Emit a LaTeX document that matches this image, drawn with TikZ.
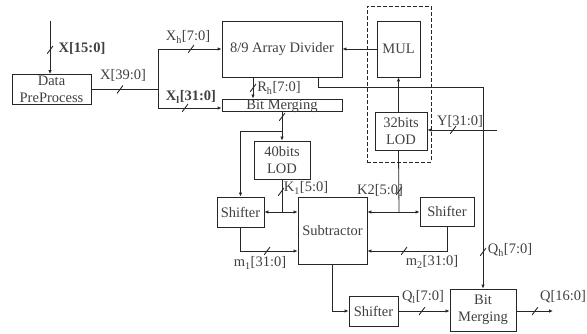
\documentclass[tikz,border=0pt]{standalone}
\usepackage{fontspec}
\setmainfont{Liberation Serif}
\usetikzlibrary{arrows.meta}

\begin{document}
\begin{tikzpicture}[
  x=1pt, y=-1pt,
  box/.style={draw=black!85, line width=0.8pt, inner sep=0pt, align=center,
              text=black!75, font=\fontsize{14.5}{17}\selectfont},
  lbl/.style={inner sep=0pt, text=black!75, font=\fontsize{14.5}{17}\selectfont},
  wire/.style={draw=black!85, line width=0.8pt},
  arr/.style={wire, -{Latex[length=4pt, width=3.5pt]}},
  bus/.style={draw=none, inner sep=0pt, minimum width=6pt, minimum height=8pt,
              path picture={\draw[black!85, line width=0.9pt]
                (path picture bounding box.south west) --
                (path picture bounding box.north east);}}
]
  \useasboundingbox (0,0) rectangle (587,334);

  % Main boxes
  \node[box, minimum width=79pt,  minimum height=30pt] (pre)   at (51.5,89.5) {Data\\PreProcess};
  \node[box, minimum width=120pt, minimum height=56pt] (div)   at (282,49)    {8/9 Array Divider};
  \node[box, minimum width=120pt, minimum height=12pt, text height=10pt, text depth=1pt] (bm1) at (282,105) {Bit Merging};
  \node[box, minimum width=43pt,  minimum height=56pt] (mul)   at (398.5,49)  {MUL};
  \node[box, minimum width=52pt,  minimum height=38pt] (lod32) at (401,131)   {32bits\\LOD};
  \node[box, minimum width=56pt,  minimum height=38pt] (lod40) at (282,160)   {40bits\\LOD};
  \node[box, minimum width=47pt,  minimum height=30pt] (shl)   at (240.5,212) {Shifter};
  \node[box, minimum width=69pt,  minimum height=67pt] (sub)   at (332.5,230.5) {Subtractor};
  \node[box, minimum width=54pt,  minimum height=29pt] (shr)   at (447,211.5) {Shifter};
  \node[box, minimum width=49pt,  minimum height=30pt] (shb)   at (373.5,311) {Shifter};
  \node[box, minimum width=66pt,  minimum height=42pt] (bm2)   at (483,310)   {Bit\\Merging};

  % Dashed group round MUL and 32bits LOD
  \node[draw=black!85, line width=0.8pt, dash pattern=on 4pt off 2pt,
        minimum width=64pt, minimum height=156pt] (grp) at (399,84) {};

  % Free ends and turning points
  \coordinate (xin)   at (50,21);
  \coordinate (jx)    at (158,89.5);
  \coordinate (xl)    at (158,108);
  \coordinate (qturn) at (483,87);
  \coordinate (yin)   at (497,130);
  \coordinate (k2)    at (399,212);
  \coordinate (j40)   at (282,131);
  \coordinate (k1)    at (282,212);
  \coordinate (mrow)  at (0,251);
  \coordinate (qout)  at (553,311);

  % Input side
  \draw[arr] (xin) -- (xin |- pre.north);
  \draw[wire] (pre.east) -- (jx);
  \draw[arr] (jx) |- (div.west);
  \draw[arr] (jx) -- (xl) -- (xl -| bm1.west);

  % Divider, MUL and LOD
  \draw[arr] (mul.west) -- (div.east);
  \draw[arr] ([xshift=-29pt]div.south) -- ([xshift=-29pt]bm1.north);
  \draw[arr] ([xshift=36pt]div.south) |- (qturn) -- (bm2.north);
  \draw[arr] (mul.south |- lod32.north) -- (mul.south);
  \draw[arr] (yin) -- (yin -| lod32.east);

  % Leading-one counts to the shifters and subtractor
  \draw[wire] (mul.south |- lod32.south) -- (k2);
  \draw[arr] (k2) -- (k2 -| sub.east);
  \draw[arr] (k2) -- (k2 -| shr.west);
  \draw[arr] (bm1.south) -- (lod40.north);
  \draw[arr] (j40) -| (shl.north);
  \draw[wire] (lod40.south) -- (k1);
  \draw[arr] (k1) -- (shl.east);
  \draw[arr] (k1) -- (k1 -| sub.west);

  % Mantissas and result
  \draw[arr] (shl.south) |- (mrow -| sub.west);
  \draw[arr] (shr.south) |- (mrow -| sub.east);
  \draw[arr] (sub.south) |- (shb.west);
  \draw[arr] (shb.east) -- (shb.east -| bm2.west);
  \draw[arr] (bm2.east |- qout) -- (qout);

  % Bus slashes
  \foreach \p [count=\i] in {(50,50),(120,89.5),(191,49),(185,108),(253,88),
      (282,117),(281,192),(399,191),(453,130),(483,252),(267,251),
      (404,251),(422,311),(535,311)}
    \node[bus] (s\i) at \p {};

  % Signal labels
  \node[lbl] (lx15)  at (82,48)   {\textbf{X[15:0]}};
  \node[lbl] (lx39)  at (123,75)  {X[39:0]};
  \node[lbl] (lxh)   at (188,37)  {X\textsubscript{h}[7:0]};
  \node[lbl] (lxl)   at (191,97)  {\textbf{X\textsubscript{l}[31:0]}};
  \node[lbl] (lrh)   at (279,88)  {R\textsubscript{h}[7:0]};
  \node[lbl] (lqh)   at (510,250) {Q\textsubscript{h}[7:0]};
  \node[lbl] (ly)    at (460,121) {Y[31:0]};
  \node[lbl] (lk2)   at (380,190) {K2[5:0]};
  \node[lbl] (lk1)   at (306,188) {K\textsubscript{1}[5:0]};
  \node[lbl] (lm1)   at (260,263) {m\textsubscript{1}[31:0]};
  \node[lbl] (lm2)   at (432,262) {m\textsubscript{2}[31:0]};
  \node[lbl] (lql)   at (423,297) {Q\textsubscript{l}[7:0]};
  \node[lbl] (lq)    at (563,297) {Q[16:0]};
\end{tikzpicture}
\end{document}
